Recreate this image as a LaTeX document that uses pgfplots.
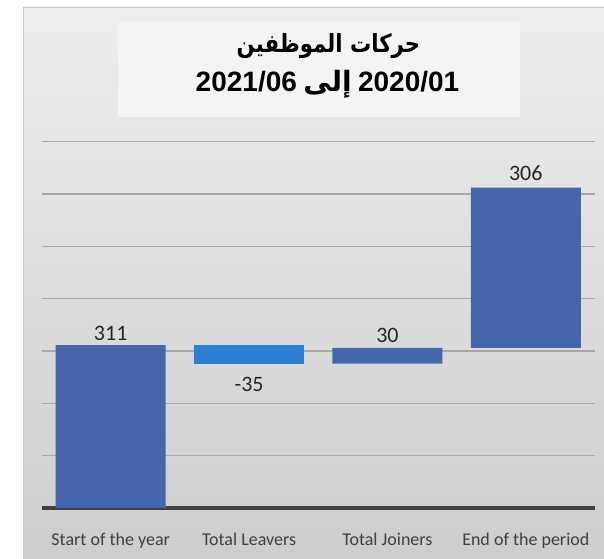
\documentclass[border=0pt]{standalone}
\usepackage{pgfplots}
\pgfplotsset{compat=1.18}
\usepackage{fontspec}
\setmainfont{Carlito}
\newfontfamily\titlefont{Liberation Sans}
\newfontfamily\arabicfont[Script=Arabic]{DejaVu Sans}
\TeXXeTstate=1
\definecolor{barblue}{HTML}{4565AD}
\definecolor{leaveblue}{HTML}{2B7FD6}
\definecolor{gridgray}{HTML}{A8A8A8}
\definecolor{basegray}{HTML}{404040}
\definecolor{ticktext}{HTML}{404040}
\definecolor{bgtop}{HTML}{EEEEEE}
\definecolor{bgbot}{HTML}{CDCDCD}
\definecolor{titlebg}{HTML}{F4F4F4}
\begin{document}
\begin{tikzpicture}
\path[use as bounding box, fill=white] (-41.5bp,-51bp) rectangle (562.5bp,508bp);
\shade[top color=bgtop, bottom color=bgbot] (-18.5bp,-51bp) rectangle (562.5bp,501bp);
\draw[color=gray!40, line width=0.8bp] (-18.5bp,-51bp) -- (-18.5bp,501bp) -- (562.5bp,501bp);
\begin{axis}[
  at={(0bp,0bp)}, anchor=south west,
  scale only axis, width=553.5bp, height=392.5bp,
  xmin=-0.5, xmax=3.5, ymin=0, ymax=750,
  ybar stacked, bar width=110bp,
  axis x line*=bottom, axis y line*=left,
  x axis line style={line width=3bp, color=basegray, -},
  y axis line style={draw=none},
  ytick={100,200,300,400,500,600,700},
  yticklabels={},
  ymajorgrids,
  major grid style={color=gridgray, line width=1.3bp},
  xtick={0,1,2,3},
  xticklabels={Start of the year, Total Leavers, Total Joiners, End of the period},
  xticklabel style={font=\fontsize{18bp}{20bp}\selectfont, text=ticktext, anchor=base, yshift=-37bp},
  major tick length=0pt,
  clip=false,
]
\addplot[fill=none, draw=none] coordinates {(0,0) (1,276) (2,276) (3,306)};
\addplot[fill=barblue, draw=none] coordinates {(0,311) (1,0) (2,30) (3,306)};
\addplot[fill=leaveblue, draw=none] coordinates {(0,0) (1,35) (2,0) (3,0)};
\node[anchor=base, yshift=4.5bp, font=\fontsize{22bp}{24bp}\selectfont, text=black!85] at (axis cs:0,311) {311};
\node[anchor=base, yshift=-28bp, font=\fontsize{22bp}{24bp}\selectfont, text=black!85] at (axis cs:1,276) {-35};
\node[anchor=base, yshift=5bp, font=\fontsize{22bp}{24bp}\selectfont, text=black!85] at (axis cs:2,306) {30};
\node[anchor=base, yshift=7.5bp, font=\fontsize{22bp}{24bp}\selectfont, text=black!85] at (axis cs:3,612) {306};
\end{axis}
\fill[titlebg] (76.5bp,391bp) rectangle (478.5bp,486bp);
\node[anchor=base, inner sep=0pt, xscale=0.85] at (287bp,455bp) {\fontsize{25bp}{27bp}\selectfont\arabicfont\bfseries\beginR حركات الموظفين\endR};
\node[anchor=base, inner sep=0pt] at (286bp,416bp) {\fontsize{28bp}{30bp}\selectfont\bfseries{\titlefont 2021/06} {\arabicfont\beginR إلى\endR} {\titlefont 2020/01}};
\end{tikzpicture}
\end{document}
